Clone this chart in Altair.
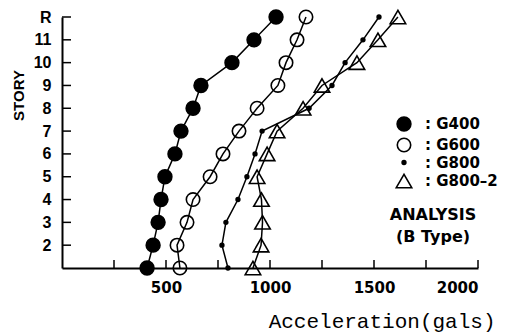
import altair as alt
import pandas as pd

stories = [1, 2, 3, 4, 5, 6, 7, 8, 9, 10, 11, 12]
series_names = ["G400", "G600", "G800", "G800-2"]
g400 = [409, 438, 462, 476, 495, 543, 572, 630, 668, 817, 923, 1029]
g600 = [567, 553, 601, 630, 712, 774, 851, 938, 1038, 1077, 1130, 1173]
g800 = [798, 769, 788, 846, 889, 928, 962, 1188, 1298, 1361, 1447, 1524]
g800_2 = [918, 957, 964, 959, 938, 986, 1034, 1159, 1250, 1418, 1519, 1615]

y_tick_values = [2, 3, 4, 5, 6, 7, 8, 9, 10, 11, 12]
x_tick_values = [250, 500, 750, 1000, 1250, 1500, 1750, 2000]
x_label_values = [500, 1000, 1500, 2000]
note_text = "ANALYSIS\n(B Type)"

rows = []
for name, vals in zip(series_names, [g400, g600, g800, g800_2]):
    for s, v in zip(stories, vals):
        rows.append({"series": name, "story": s, "acc": v})
df = pd.DataFrame(rows)

W, H = 416, 251

xscale = alt.Scale(domain=[0, 2000], nice=False, zero=False)
yscale = alt.Scale(domain=[1, 12], nice=False, zero=False)

xaxis = alt.Axis(
    values=x_label_values, ticks=False, grid=False, format="d",
    domainColor="black", domainWidth=2,
    labelFont="DejaVu Sans", labelFontWeight="bold", labelFontSize=15,
    labelColor="black", labelPadding=12,
    title="Acceleration(gals)", titleFont="Liberation Mono",
    titleFontSize=21, titleFontWeight="normal", titleColor="black",
    titleAlign="right", titleAnchor="end", titleX=433, titleY=59,
    titleBaseline="alphabetic",
)
yaxis = alt.Axis(
    values=y_tick_values, ticks=False, grid=False,
    domainColor="black", domainWidth=2,
    labelExpr="datum.value == 12 ? 'R' : datum.label",
    labelFont="Liberation Sans", labelFontWeight="bold", labelFontSize=16,
    labelColor="black", labelPadding=11,
    title="STORY", titleFont="Liberation Sans", titleFontWeight="bold",
    titleFontSize=15, titleColor="black", titleAngle=270,
    titleX=-44, titleY=78, titleAlign="center", titleBaseline="middle",
)

legend = alt.Legend(
    orient="none", legendX=333, legendY=99, padding=0, title=None,
    labelFont="DejaVu Sans", labelFontWeight="bold", labelFontSize=15,
    labelColor="black", labelOffset=12,
    labelExpr="': ' + replace(datum.label, '-', '\u2013')",
    symbolStrokeWidth=1.6, rowPadding=0,
)

lines = alt.Chart(df).mark_line(color="black", strokeWidth=1.5).encode(
    x=alt.X("acc:Q", scale=xscale, axis=xaxis),
    y=alt.Y("story:Q", scale=yscale, axis=yaxis),
    detail="series:N",
    order="story:Q",
)

points = alt.Chart(df).mark_point(strokeWidth=1.6, opacity=1).encode(
    x=alt.X("acc:Q", scale=xscale, axis=xaxis),
    y=alt.Y("story:Q", scale=yscale, axis=yaxis),
    shape=alt.Shape("series:N", scale=alt.Scale(domain=series_names,
                    range=["circle", "circle", "circle", "triangle-up"]), legend=legend),
    fill=alt.Fill("series:N", scale=alt.Scale(domain=series_names,
                  range=["black", "transparent", "black", "transparent"]), legend=legend),
    stroke=alt.Stroke("series:N", scale=alt.Scale(domain=series_names,
                      range=["black", "black", "black", "black"]), legend=legend),
    size=alt.Size("series:N", scale=alt.Scale(type="ordinal", domain=series_names,
                  range=[190, 180, 14, 240]), legend=legend),
)

ytick_df = pd.DataFrame({"story": y_tick_values})
xtick_df = pd.DataFrame({"acc": x_tick_values})

yticks = alt.Chart(ytick_df).mark_rule(color="black", strokeWidth=1.5).encode(
    y=alt.Y("story:Q", scale=yscale, axis=yaxis),
    x=alt.value(0), x2=alt.value(9),
)
xticks = alt.Chart(xtick_df).mark_rule(color="black", strokeWidth=1.5).encode(
    x=alt.X("acc:Q", scale=xscale, axis=xaxis),
    y=alt.value(H), y2=alt.value(H - 8),
)

note = alt.Chart(pd.DataFrame({"t": [note_text]})).mark_text(
    font="DejaVu Sans", fontWeight="bold", fontSize=16, color="black",
    align="center", baseline="top", lineBreak="\n", lineHeight=22,
).encode(text="t:N", x=alt.value(371), y=alt.value(190))

chart = alt.layer(lines, points, yticks, xticks, note).properties(
    width=W, height=H,
    autosize=alt.AutoSizeParams(type="none"),
    padding={"left": 62, "top": 17, "right": 36, "bottom": 66},
    background="white",
).configure_view(stroke=None)

chart.save("out.html", embed_options={"renderer": "svg", "actions": False})
